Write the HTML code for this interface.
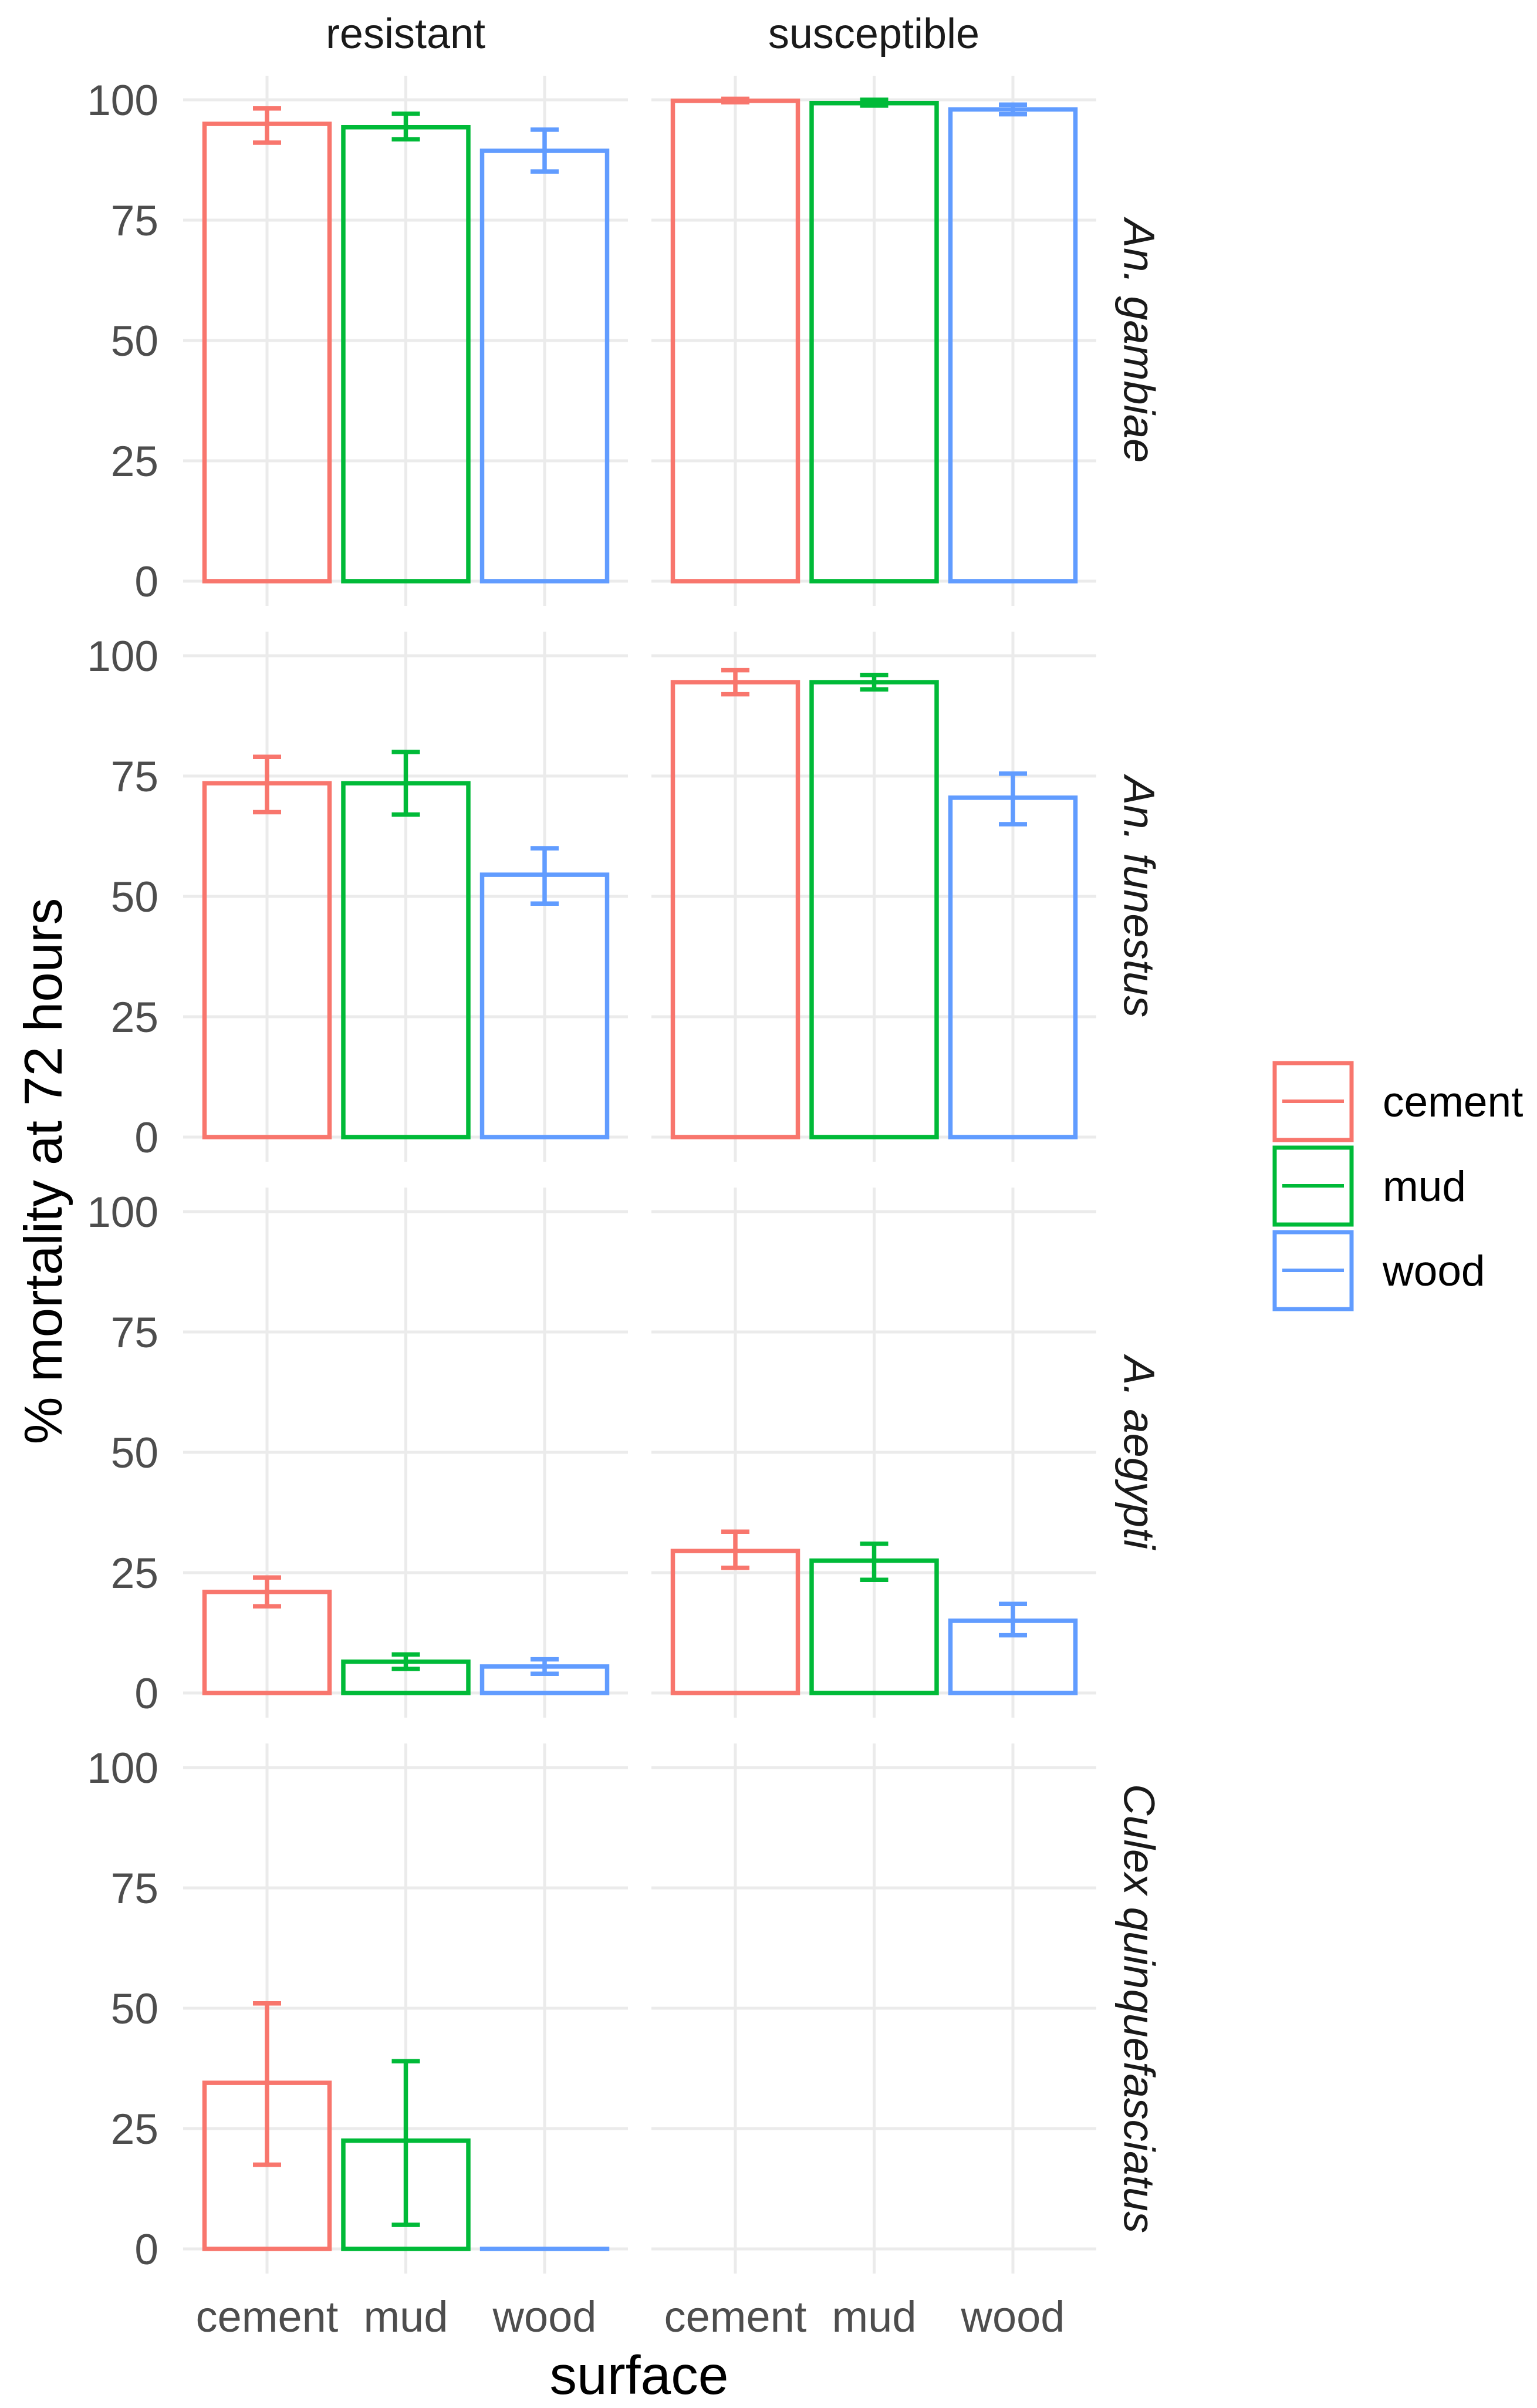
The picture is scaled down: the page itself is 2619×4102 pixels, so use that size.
<!DOCTYPE html>
<html><head><meta charset="utf-8"><style>
html,body{margin:0;padding:0;background:#fff}
svg{display:block;font-family:"Liberation Sans",sans-serif}
</style></head><body>
<svg id="chart" width="2619" height="4102" viewBox="0 0 2619 4102" xmlns="http://www.w3.org/2000/svg">
<g id="grid"></g><g id="marks"></g><g id="labels"></g>
</svg>
<script>
const surfaces = ["cement","mud","wood"];
const strains = ["resistant","susceptible"];
const species = ["An. gambiae","An. funestus","A. aegypti","Culex quinquefasciatus"];
const yTicks = [0,25,50,75,100];
// values[species][strain][surface], null = no data
const meanVals = [
  [[95.0,94.3,89.4],[99.8,99.3,98.0]],
  [[73.5,73.5,54.5],[94.5,94.5,70.5]],
  [[21.0,6.5,5.5],[29.5,27.5,15.0]],
  [[34.5,22.5,0],[null,null,null]]
];
const lowVals = [
  [[91.1,91.8,85.1],[99.5,98.8,97.0]],
  [[67.5,67.0,48.5],[92.0,93.0,65.0]],
  [[18.0,5.0,4.0],[26.0,23.5,12.0]],
  [[17.5,5.0,0],[null,null,null]]
];
const highVals = [
  [[98.2,97.1,93.8],[100.2,100.0,99.0]],
  [[79.0,80.0,60.0],[97.0,96.0,75.5]],
  [[24.0,8.0,7.0],[33.5,31.0,18.5]],
  [[51.0,39.0,0],[null,null,null]]
];
const colors = ["#F8766D","#00BA38","#619CFF"];
const NS="http://www.w3.org/2000/svg";
const grid=document.getElementById('grid'),marks=document.getElementById('marks'),labels=document.getElementById('labels');
function mk(tag,attrs,parent){const e=document.createElementNS(NS,tag);for(const k in attrs)e.setAttribute(k,attrs[k]);parent.appendChild(e);return e;}
const panelX=[312,1110], panelW=758, rowStep=947, y0Base=990, yScale=8.2;
const catStep=236.5, catOff=143, barW=213;
function xPos(col,i){return panelX[col]+catOff+i*catStep;}
function yPos(row,v){return y0Base+row*rowStep - v*yScale;}
for(let r=0;r<species.length;r++){
  const top=yPos(r,100)-41, bot=yPos(r,0)+42;
  for(let c=0;c<2;c++){
    for(const t of yTicks){
      const g=mk('line',{x1:panelX[c],x2:panelX[c]+panelW,y1:yPos(r,t),y2:yPos(r,t),stroke:'#ebebeb','stroke-width':5},grid);
      
      
    }
    for(let i=0;i<3;i++){
      const g=mk('line',{x1:xPos(c,i),x2:xPos(c,i),y1:top,y2:bot,stroke:'#ebebeb','stroke-width':5},grid);
      
      
    }
    for(let i=0;i<3;i++){
      const m=meanVals[r][c][i]; if(m===null) continue;
      const x=xPos(c,i);
      const b=mk('rect',{x:x-barW/2,y:yPos(r,m),width:barW,height:Math.max(0.01,yPos(r,0)-yPos(r,m)),fill:'none',stroke:colors[i],'stroke-width':7.5},marks);
      
      
      const lo=lowVals[r][c][i], hi=highVals[r][c][i];
      if(hi>lo){
        const e=mk('path',{d:`M${x-24},${yPos(r,hi)}H${x+24}M${x},${yPos(r,hi)}V${yPos(r,lo)}M${x-24},${yPos(r,lo)}H${x+24}`,stroke:colors[i],'stroke-width':7.5,fill:'none'},marks);
        
        
      }
    }
  }
  for(const t of yTicks){
    const tx=mk('text',{x:270,y:yPos(r,t)+26,'text-anchor':'end','font-size':73,fill:'#4d4d4d'},labels);
    tx.textContent=t;
    
    
  }
  const cy=(top+bot)/2;
  const sl=mk('text',{x:1941,y:cy,'text-anchor':'middle','font-size':74,'font-style':'italic',fill:'#1a1a1a',transform:`rotate(90 1941 ${cy})`,'dominant-baseline':'central'},labels);
  sl.textContent=species[r];
  
  
}
for(let c=0;c<2;c++){
  const s=mk('text',{x:panelX[c]+panelW/2,y:82,'text-anchor':'middle','font-size':72,fill:'#1a1a1a'},labels);
  s.textContent=strains[c];
  
  
  for(let i=0;i<3;i++){
    const t=mk('text',{x:xPos(c,i),y:3972,'text-anchor':'middle','font-size':74,fill:'#4d4d4d'},labels);
    t.textContent=surfaces[i];
    
    
  }
}
const xt=mk('text',{x:1089,y:4078,'text-anchor':'middle','font-size':93,fill:'#000'},labels);
xt.textContent='surface';


const yt=mk('text',{x:105,y:1995,'text-anchor':'middle','font-size':91,fill:'#000',transform:'rotate(-90 105 1995)'},labels);
yt.textContent='% mortality at 72 hours';


for(let i=0;i<3;i++){
  const ky=1811+i*144;
  const k=mk('rect',{x:2172,y:ky,width:131,height:131,fill:'none',stroke:colors[i],'stroke-width':7},labels);
  
  
  const l=mk('line',{x1:2185,x2:2290,y1:ky+65,y2:ky+65,stroke:colors[i],'stroke-width':6},labels);
  
  
  const t=mk('text',{x:2356,y:ky+91,'font-size':73,fill:'#000'},labels);
  t.textContent=surfaces[i];
  
  
}
</script>
</body></html>
